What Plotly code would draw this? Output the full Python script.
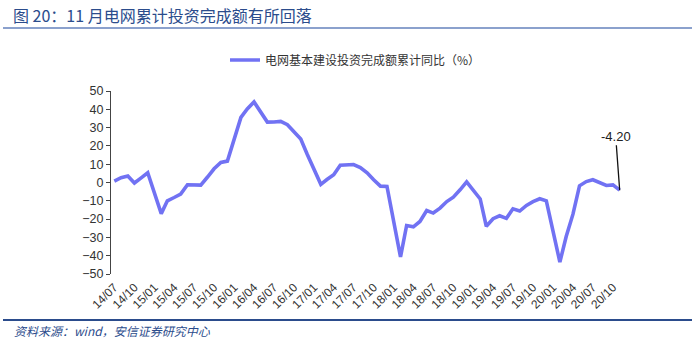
import pandas as pd
import plotly.graph_objects as go

# Monthly cumulative YoY growth of grid construction investment (%); January not published
months = [
    "2014-07", "2014-08", "2014-09", "2014-10", "2014-11", "2014-12",
    "2015-02", "2015-03", "2015-04", "2015-05", "2015-06", "2015-07", "2015-08", "2015-09", "2015-10", "2015-11", "2015-12",
    "2016-02", "2016-03", "2016-04", "2016-05", "2016-06", "2016-07", "2016-08", "2016-09", "2016-10", "2016-11", "2016-12",
    "2017-02", "2017-03", "2017-04", "2017-05", "2017-06", "2017-07", "2017-08", "2017-09", "2017-10", "2017-11", "2017-12",
    "2018-02", "2018-03", "2018-04", "2018-05", "2018-06", "2018-07", "2018-08", "2018-09", "2018-10", "2018-11", "2018-12",
    "2019-02", "2019-03", "2019-04", "2019-05", "2019-06", "2019-07", "2019-08", "2019-09", "2019-10", "2019-11", "2019-12",
    "2020-02", "2020-03", "2020-04", "2020-05", "2020-06", "2020-07", "2020-08", "2020-09", "2020-10", "2020-11",
]
grid_invest_yoy = [
    0.8, 2.6, 3.5, -0.3, 2.5, 5.3,
    -17.0, -10.0, -8.2, -6.3, -1.2, -1.3, -1.4, 3.0, 7.5, 11.0, 11.7,
    35.6, 40.2, 44.0, 38.5, 33.0, 33.1, 33.4, 31.6, 27.8, 23.8, 15.3,
    -1.0, 1.6, 4.2, 9.4, 9.7, 9.8, 8.2, 5.3, 1.5, -2.0, -2.2,
    -40.7, -23.5, -24.2, -21.3, -15.3, -16.7, -14.0, -10.4, -8.0, -4.0, 0.4,
    -9.0, -23.9, -19.8, -18.2, -19.6, -14.4, -15.6, -12.5, -10.5, -8.9, -10.0,
    -43.5, -29.5, -17.3, -1.8, 0.5, 1.5, 0.0, -1.6, -1.3, -4.2,
]

tick_months = [
    "2014-07", "2014-10", "2015-01", "2015-04", "2015-07", "2015-10", "2016-01", "2016-04", "2016-07",
    "2016-10", "2017-01", "2017-04", "2017-07", "2017-10", "2018-01", "2018-04", "2018-07", "2018-10",
    "2019-01", "2019-04", "2019-07", "2019-10", "2020-01", "2020-04", "2020-07", "2020-10",
]
tick_labels = [
    "14/07", "14/10", "15/01", "15/04", "15/07", "15/10", "16/01", "16/04", "16/07",
    "16/10", "17/01", "17/04", "17/07", "17/10", "18/01", "18/04", "18/07", "18/10",
    "19/01", "19/04", "19/07", "19/10", "20/01", "20/04", "20/07", "20/10",
]

series_name = "电网基本建设投资完成额累计同比（%）"
title_text = "图 20：11 月电网累计投资完成额有所回落"
source_text = "资料来源：wind，安信证券研究中心"

# ---- geometry helpers (pixel -> paper coordinates) ----
W, H = 695, 342
ML, MR, MT, MB = 111, 72, 91, 68
PW, PH = W - ML - MR, H - MT - MB


def px(x):
    return (x - ML) / PW


def py(y):
    return (H - MB - y) / PH


dates = pd.to_datetime(months)
half_month = pd.Timedelta(days=15.2)
x_range = [dates[0] - half_month, dates[-1] + half_month]
tick_dates = pd.to_datetime(tick_months)
boundary_ticks = [d - half_month for d in tick_dates]

y_min, y_max = -50, 50
zero_pos = (0 - y_min) / (y_max - y_min)

LINE_COLOR = "#7172F3"
AXIS_COLOR = "#444444"
TEXT_COLOR = "#333333"
NAVY = "#2B4C8C"
LATIN = "Arial, Liberation Sans, sans-serif"
CJK = "Noto Sans CJK SC, sans-serif"

fig = go.Figure()
fig.add_trace(go.Scatter(
    x=dates, y=grid_invest_yoy, mode="lines", name=series_name,
    line=dict(color=LINE_COLOR, width=3.6),
))

# label for the latest reading
fig.add_annotation(
    x=dates[-1], y=grid_invest_yoy[-1], text=f"{grid_invest_yoy[-1]:.2f}",
    showarrow=True, arrowhead=0, arrowwidth=1.3, arrowcolor="#111111",
    ax=-4, ay=-54, font=dict(family=LATIN, size=13, color="#222222"),
)

# chart title and source note
fig.add_annotation(
    xref="paper", yref="paper", x=px(11), y=py(15), xanchor="left", yanchor="middle",
    text=title_text, showarrow=False,
    font=dict(family=CJK, size=16, color=NAVY),
)
fig.add_annotation(
    xref="paper", yref="paper", x=px(12), y=py(330), xanchor="left", yanchor="middle",
    text=source_text, showarrow=False,
    font=dict(family=CJK, size=12, color=NAVY, style="italic"),
)

fig.add_shape(type="line", xref="paper", yref="paper",
              x0=px(3), x1=px(692), y0=py(28), y1=py(28),
              line=dict(color="#6482BC", width=1.5))
fig.add_shape(type="line", xref="paper", yref="paper",
              x0=px(3), x1=px(692), y0=py(320), y1=py(320),
              line=dict(color=NAVY, width=2))

fig.update_layout(
    width=W, height=H,
    margin=dict(l=ML, r=MR, t=MT, b=MB, pad=0),
    paper_bgcolor="white", plot_bgcolor="white",
    showlegend=True,
    legend=dict(
        orientation="h", x=px(225), y=py(60), xanchor="left", yanchor="middle",
        font=dict(family=CJK, size=12, color=TEXT_COLOR),
        bgcolor="rgba(0,0,0,0)",
    ),
    xaxis=dict(
        type="date", range=x_range,
        tickmode="array", tickvals=tick_dates, ticktext=tick_labels,
        tickangle=-45, ticks="", showline=False, showgrid=False, zeroline=False,
        ticklabelstandoff=3,
        tickfont=dict(family=LATIN, size=12, color=TEXT_COLOR),
    ),
    # axis line with tick marks running through y = 0
    xaxis2=dict(
        type="date", range=x_range, overlaying="x", anchor="free", position=zero_pos,
        side="top", tickmode="array", tickvals=boundary_ticks,
        ticks="outside", ticklen=4, tickcolor=AXIS_COLOR, tickwidth=1,
        showticklabels=False, showline=True, linecolor=AXIS_COLOR, linewidth=1,
        showgrid=False, zeroline=False,
    ),
    yaxis=dict(
        range=[y_min, y_max], dtick=10, tick0=0,
        showline=True, linecolor=AXIS_COLOR, linewidth=1,
        ticks="outside", ticklen=4, tickcolor=AXIS_COLOR,
        showgrid=False, zeroline=False,
        tickfont=dict(family=LATIN, size=12.5, color=TEXT_COLOR),
    ),
)

fig.write_html("out.html")
